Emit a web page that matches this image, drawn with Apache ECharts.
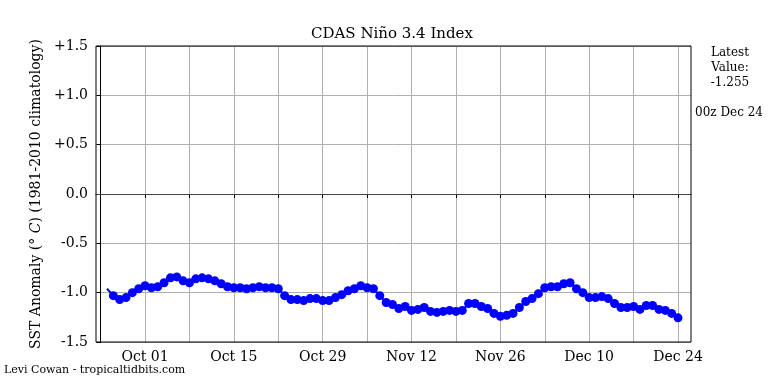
<!DOCTYPE html>
<html>
<head>
<meta charset="utf-8">
<script src="https://cdn.jsdelivr.net/npm/echarts@6/dist/echarts.min.js"></script>
<style>html,body{margin:0;padding:0;background:#fff;}#c{width:768px;height:384px;}</style>
</head>
<body>
<div id="c"></div>
<script>
// x = days since 00z Sep 24
const tickDays = [0, 7, 14, 21, 28, 35, 42, 49, 56, 63, 70, 77, 84, 91];
const labelDays = [7, 21, 35, 49, 63, 77, 91];
const labelTexts = ['Oct 01', 'Oct 15', 'Oct 29', 'Nov 12', 'Nov 26', 'Dec 10', 'Dec 24'];
const yTicks = [-1.5, -1.0, -0.5, 0.0, 0.5, 1.0, 1.5];
const firstDay = 1; // Sep 25
const values = [
  -0.96, -1.03, -1.07, -1.05, -1.00, -0.96, -0.93, -0.95, -0.94, -0.90,
  -0.85, -0.84, -0.88, -0.90, -0.86, -0.85, -0.86, -0.88, -0.91, -0.94,
  -0.95, -0.95, -0.96, -0.95, -0.94, -0.95, -0.95, -0.96, -1.03, -1.07,
  -1.07, -1.08, -1.06, -1.06, -1.08, -1.08, -1.05, -1.02, -0.98, -0.96,
  -0.93, -0.95, -0.96, -1.03, -1.10, -1.12, -1.16, -1.14, -1.18, -1.17,
  -1.15, -1.19, -1.20, -1.19, -1.18, -1.19, -1.18, -1.11, -1.11, -1.14,
  -1.16, -1.21, -1.24, -1.23, -1.21, -1.15, -1.09, -1.06, -1.01, -0.95,
  -0.94, -0.94, -0.91, -0.90, -0.96, -1.00, -1.05, -1.05, -1.04, -1.06,
  -1.11, -1.15, -1.15, -1.14, -1.17, -1.13, -1.13, -1.17, -1.18, -1.21,
  -1.255
];
const latestText = 'Latest\nValue:\n-1.255';
const latestTime = '00z Dec 24';
const titleText = 'CDAS Niño 3.4 Index';
const creditText = 'Levi Cowan - tropicaltidbits.com';

const FONT = 'DejaVu Serif';
const seriesData = values.map((v, i) => {
  const p = { value: [firstDay + i, v] };
  if (i === 0) p.symbolSize = 0;
  return p;
});
const labelMap = {};
labelDays.forEach((d, i) => labelMap[d] = labelTexts[i]);

const chart = echarts.init(document.getElementById('c'), null, { renderer: 'canvas' });
chart.setOption({
  animation: false,
  backgroundColor: '#fff',
  grid: { left: 96, right: 77, top: 46, bottom: 42, show: true, borderColor: '#000', borderWidth: 1, backgroundColor: 'transparent', z: 3 },
  xAxis: {
    type: 'value', min: -0.73, max: 93.05,
    axisLine: { show: true, lineStyle: { color: '#000', width: 1 } },
    axisTick: { show: true, length: 4, lineStyle: { color: '#000' }, customValues: tickDays },
    axisLabel: { customValues: labelDays, formatter: v => labelMap[v] || '', color: '#000', fontFamily: FONT, fontSize: 14, margin: 8 },
    splitLine: { show: true, lineStyle: { color: '#b0b0b0', width: 1 } }
  },
  yAxis: {
    type: 'value', min: -1.5, max: 1.5, interval: 0.5,
    name: 'SST Anomaly (° {i|C}) (1981-2010 climatology)',
    nameLocation: 'middle', nameGap: 52,
    nameTextStyle: { color: '#000', fontFamily: FONT, fontSize: 14, rich: { i: { fontStyle: 'italic', fontFamily: FONT, fontSize: 14, color: '#000' } } },
    axisLine: { show: true, lineStyle: { color: '#000', width: 1 } },
    axisTick: { show: true, length: 4, lineStyle: { color: '#000' } },
    axisLabel: { formatter: v => (v > 0 ? '+' + v.toFixed(1) : (Math.abs(v) < 1e-9 ? '0.0' : v.toFixed(1))), color: '#000', fontFamily: FONT, fontSize: 14, margin: 8 },
    splitLine: { show: true, lineStyle: { color: '#b0b0b0', width: 1 } }
  },
  series: [{
    type: 'line', data: seriesData,
    symbol: 'circle', symbolSize: 9,
    itemStyle: { color: '#0000ff' },
    lineStyle: { color: '#0000ff', width: 2 },
    z: 5,
    markLine: { silent: true, symbol: 'none', label: { show: false },
      lineStyle: { color: '#444', width: 1.2, type: 'solid' },
      data: [{ yAxis: 0 }], z: 2 }
  }],
  graphic: [
    { type: 'text', left: 393 - 82, top: 27, style: { text: titleText, fill: '#000', font: '15px "DejaVu Serif"' } },
    { type: 'text', x: 730, y: 45, style: { text: latestText, fill: '#000', font: '12px "DejaVu Serif"', align: 'center', lineHeight: 15 } },
    { type: 'text', x: 729, y: 107, style: { text: latestTime, fill: '#000', font: '12px "DejaVu Serif"', align: 'center' } },
    { type: 'text', x: 4, y: 365, style: { text: creditText, fill: '#000', font: '11px "DejaVu Serif"' } }
  ]
});
</script>
</body>
</html>
